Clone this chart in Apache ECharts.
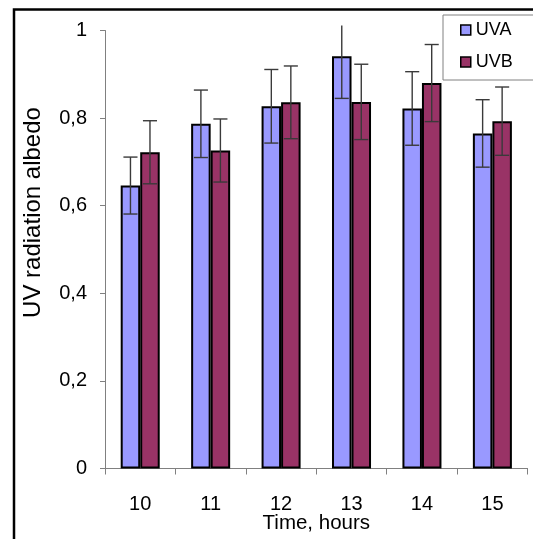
<!DOCTYPE html>
<html>
<head>
<meta charset="utf-8">
<script src="https://cdn.jsdelivr.net/npm/echarts@6/dist/echarts.min.js"></script>
<style>
html,body{margin:0;padding:0;background:#fff;}
#chart{width:533px;height:539px;}
</style>
</head>
<body>
<div id="chart"></div>
<script>
const categories = ['10', '11', '12', '13', '14', '15'];
const uva = [0.646, 0.787, 0.827, 0.941, 0.822, 0.765];
const uvb = [0.722, 0.726, 0.836, 0.837, 0.880, 0.793];
const uvaErr = [0.065, 0.077, 0.084, 0.096, 0.084, 0.077];
const uvbErr = [0.072, 0.072, 0.083, 0.086, 0.088, 0.078];
const seriesNames = ['UVA', 'UVB'];
const xTitle = 'Time, hours';
const yTitle = 'UV radiation albedo';

const BAR_RATIO = 0.277;
const FONT = '"Liberation Sans", Arial, sans-serif';

function errData(means, errs, side) {
  return means.map((m, i) => [i, m, errs[i], side]);
}

function renderErr(params, api) {
  const i = api.value(0), mean = api.value(1), err = api.value(2), side = api.value(3);
  const band = api.size([1, 0])[0];
  const bw = band * BAR_RATIO;
  const x = api.coord([i, mean])[0] + side * bw / 2;
  let yHigh = api.coord([i, mean + err])[1];
  const yLow = api.coord([i, mean - err])[1];
  const limit = params.coordSys.y - 5;
  let clipped = false;
  if (yHigh < limit) { yHigh = limit; clipped = true; }
  const cap = band * 0.1;
  const st = { stroke: '#3a3a3a', lineWidth: 1.4 };
  const children = [
    { type: 'line', shape: { x1: x, y1: yHigh, x2: x, y2: yLow }, style: st },
    { type: 'line', shape: { x1: x - cap, y1: yLow, x2: x + cap, y2: yLow }, style: st }
  ];
  if (!clipped) children.push({ type: 'line', shape: { x1: x - cap, y1: yHigh, x2: x + cap, y2: yHigh }, style: st });
  return { type: 'group', children: children };
}

const chart = echarts.init(document.getElementById('chart'), null, { renderer: 'canvas' });
chart.setOption({
  animation: false,
  backgroundColor: '#fff',
  textStyle: { fontFamily: FONT, color: '#000' },
  grid: { left: 105, right: 5.4, top: 30.5, bottom: 70.5, containLabel: false, outerBoundsMode: 'none' },
  legend: {
    data: seriesNames,
    orient: 'vertical',
    left: 443, top: 15,
    padding: [6, 40, 9, 17],
    itemGap: 14,
    itemWidth: 10, itemHeight: 10,
    icon: 'rect',
    borderColor: '#808080', borderWidth: 1,
    backgroundColor: '#fff',
    textStyle: { fontSize: 18, fontFamily: FONT, color: '#000' },
    itemStyle: { borderColor: '#000', borderWidth: 1.5 }
  },
  xAxis: {
    type: 'category',
    data: categories,
    name: xTitle,
    nameLocation: 'middle',
    nameGap: 44,
    nameMoveOverlap: false,
    nameTextStyle: { fontSize: 20.5, fontFamily: FONT, color: '#000' },
    axisLine: { lineStyle: { color: '#808080', width: 1 } },
    axisTick: { show: true, length: 6, lineStyle: { color: '#808080' } },
    axisLabel: { fontSize: 20, fontFamily: FONT, color: '#000', margin: 26 }
  },
  yAxis: {
    type: 'value',
    min: 0, max: 1, interval: 0.2,
    axisLine: { show: true, lineStyle: { color: '#808080', width: 1 } },
    axisTick: { show: true, length: 5, lineStyle: { color: '#808080' } },
    splitLine: { show: false },
    axisLabel: {
      fontSize: 20, fontFamily: FONT, color: '#000', margin: 18,
      formatter: v => String(Math.round(v * 10) / 10).replace('.', ',')
    }
  },
  graphic: [
    { type: 'rect', z: -1, shape: { x: 14, y: 9.5, width: 800, height: 800 },
      style: { fill: 'none', stroke: '#000', lineWidth: 2.5 } },
    { type: 'text', x: 33.5, y: 212.5, rotation: Math.PI / 2,
      style: { text: yTitle, fontSize: 24, fontFamily: FONT, fill: '#000', align: 'center', verticalAlign: 'middle' } }
  ],
  series: [
    { name: seriesNames[0], type: 'bar', data: uva, barWidth: (BAR_RATIO * 100) + '%', barGap: '0%',
      itemStyle: { color: '#9999FF', borderColor: '#000', borderWidth: 2 } },
    { name: seriesNames[1], type: 'bar', data: uvb, barWidth: (BAR_RATIO * 100) + '%', barGap: '0%',
      itemStyle: { color: '#993366', borderColor: '#000', borderWidth: 2 } },
    { type: 'custom', z: 5, renderItem: renderErr, data: errData(uva, uvaErr, -1), clip: false,
      encode: { x: 0, y: 1 } },
    { type: 'custom', z: 5, renderItem: renderErr, data: errData(uvb, uvbErr, 1), clip: false,
      encode: { x: 0, y: 1 } }
  ]
});
</script>
</body>
</html>
